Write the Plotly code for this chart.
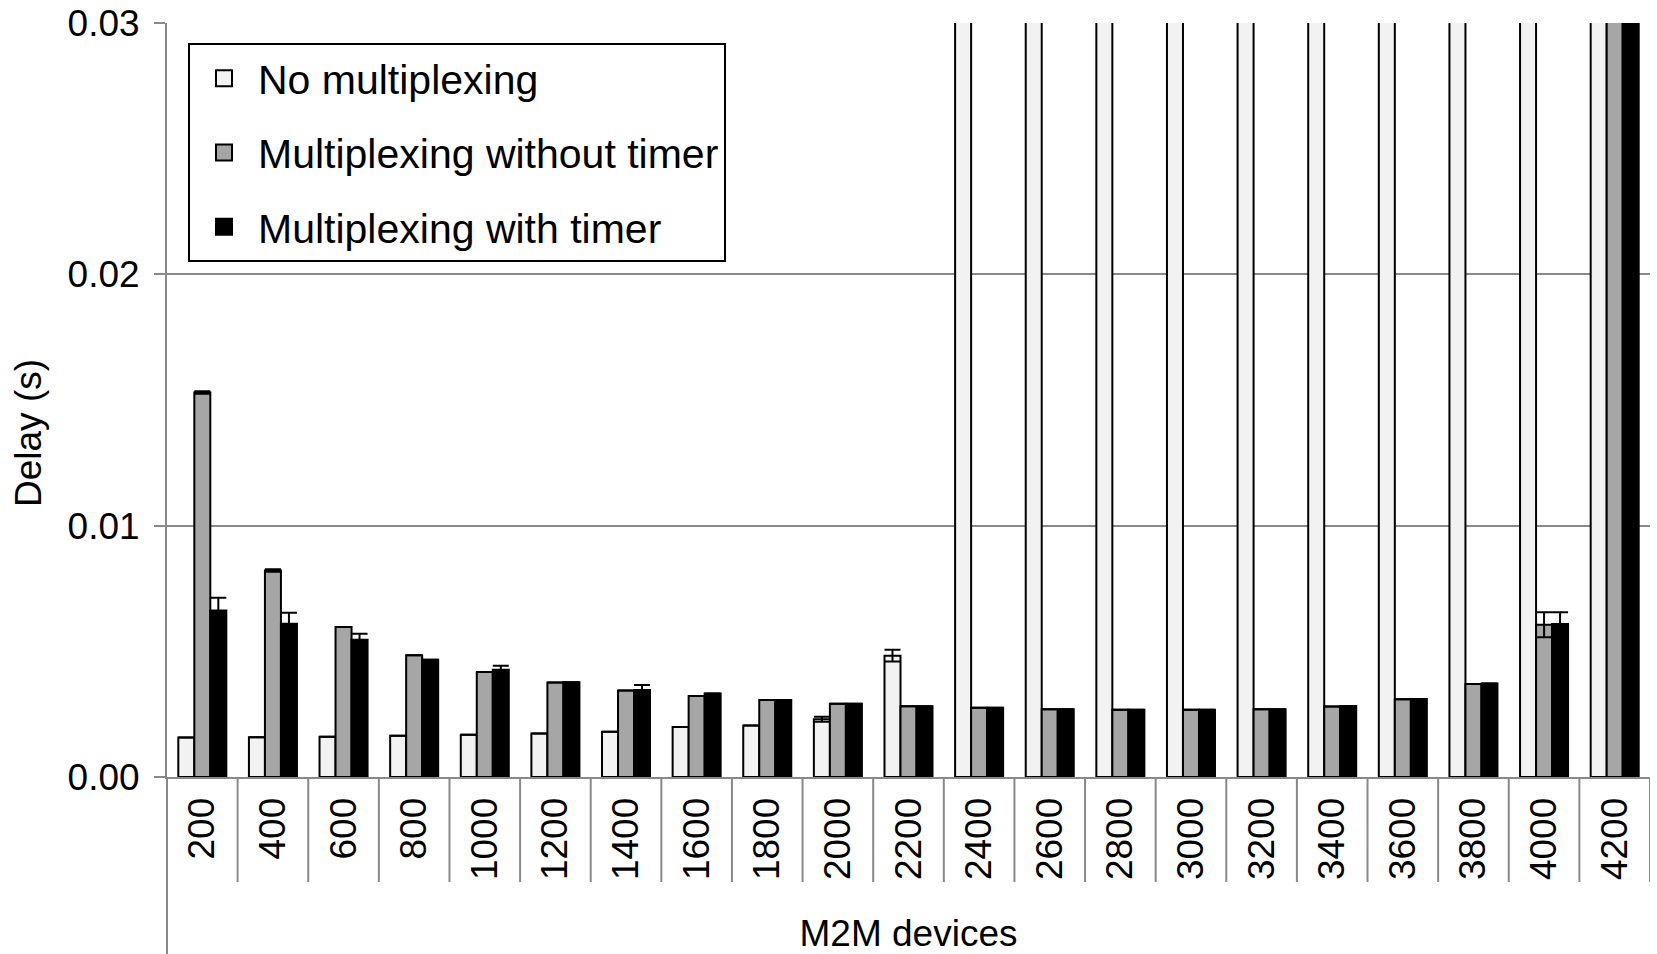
import plotly.graph_objects as go

categories = ["200", "400", "600", "800", "1000", "1200", "1400", "1600", "1800", "2000",
              "2200", "2400", "2600", "2800", "3000", "3200", "3400", "3600", "3800", "4000", "4200"]

no_mux = [0.00157, 0.00158, 0.0016, 0.00164, 0.00168, 0.00173, 0.0018, 0.00199, 0.00205, 0.0023,
          0.00483, 0.05, 0.05, 0.05, 0.05, 0.05, 0.05, 0.05, 0.05, 0.05, 0.05]
no_mux_err = [0, 0, 0, 0, 0, 0, 0, 0, 0, 0.0001,
              0.00023, 0, 0, 0, 0, 0, 0, 0, 0, 0, 0]

mux_no_timer = [0.0153, 0.00822, 0.00597, 0.00485, 0.00418, 0.00376, 0.00344, 0.00322, 0.00306, 0.00292,
                0.00282, 0.00276, 0.0027, 0.00268, 0.00268, 0.0027, 0.00281, 0.00309, 0.0037, 0.00606, 0.05]
mux_no_timer_err = [0.00005, 0.00005, 0, 0, 0, 0, 0, 0, 0, 0,
                    0, 0, 0, 0, 0, 0, 0, 0, 0, 0.0005, 0]

mux_timer = [0.00663, 0.0061, 0.00546, 0.00467, 0.00427, 0.00377, 0.00346, 0.00332, 0.00306, 0.00292,
             0.00282, 0.00276, 0.0027, 0.00268, 0.00268, 0.0027, 0.00283, 0.0031, 0.00372, 0.00609, 0.05]
mux_timer_err = [0.0005, 0.00044, 0.00024, 0, 0.00016, 0, 0.0002, 0, 0, 0,
                 0, 0, 0, 0, 0, 0, 0, 0, 0, 0.00047, 0]

y_ticks = [0.0, 0.01, 0.02, 0.03]

series = [
    ("No multiplexing", no_mux, no_mux_err, "#f2f2f2"),
    ("Multiplexing without timer", mux_no_timer, mux_no_timer_err, "#a6a6a6"),
    ("Multiplexing with timer", mux_timer, mux_timer_err, "#000000"),
]

FONT = "Liberation Sans, Arial, sans-serif"
GRID = "#898989"

fig = go.Figure()
for i, (name, vals, errs, color) in enumerate(series):
    fig.add_trace(go.Bar(
        name=name, x=categories, y=vals,
        marker=dict(color=color, line=dict(color="black", width=2)),
        error_y=dict(type="data", array=errs, visible=True, color="black", thickness=2, width=8),
        showlegend=False,
    ))
# legend entries (larger square swatches like the original)
for i, (name, vals, errs, color) in enumerate(series):
    fig.add_trace(go.Scatter(
        name=name, x=[None], y=[None], mode="markers",
        marker=dict(symbol="square", size=16, color=color, line=dict(color="black", width=2)),
        legendgroup=f"g{i}", showlegend=True,
    ))

W, H = 1657, 954
PL, PR, PT, PB = 167, 1650, 23, 777          # plot area in page pixels
L, T = PL, PT
R, B = W - PR, H - PB
plot_w = PR - PL
plot_h = PB - PT


def px_x(x):
    return (x - PL) / plot_w


def px_y(y):
    return 1 - (y - PT) / plot_h


n = len(categories)
shapes = []
for k in range(n + 1):
    shapes.append(dict(type="line", xref="x", yref="paper", x0=k - 0.5, x1=k - 0.5,
                       y0=0, y1=px_y(882), line=dict(color=GRID, width=2)))
shapes.append(dict(type="line", xref="paper", yref="paper", x0=0, x1=0,
                   y0=0, y1=px_y(H), line=dict(color=GRID, width=2)))

fig.update_layout(
    width=W, height=H,
    margin=dict(l=L, r=R, t=T, b=B, autoexpand=False),
    paper_bgcolor="white", plot_bgcolor="white",
    barmode="group", bargap=0.32, bargroupgap=0,
    font=dict(family=FONT, color="black", size=37),
    shapes=shapes,
    annotations=[dict(
        text="Delay (s)", textangle=-90, xref="paper", yref="paper",
        x=px_x(29), y=px_y(433),
        xanchor="center", yanchor="middle", showarrow=False,
        font=dict(size=37, family=FONT, color="black"),
    )],
    legend=dict(
        x=px_x(188), y=px_y(43), xanchor="left", yanchor="top",
        bgcolor="white", bordercolor="black", borderwidth=2,
        font=dict(size=41, family=FONT, color="black"),
        traceorder="grouped", tracegroupgap=18, itemwidth=58,
    ),
    xaxis=dict(
        type="category", range=[-0.5, n - 0.5], automargin=False,
        showline=True, linecolor=GRID, linewidth=2,
        ticks="", tickangle=-90, ticklabelstandoff=4,
        tickfont=dict(size=37),
        title=dict(text="M2M devices", font=dict(size=37), standoff=42),
        showgrid=False,
    ),
    yaxis=dict(
        range=[0, max(y_ticks) * 1.0002], tickvals=y_ticks, tickformat=".2f", automargin=False,
        showline=True, linecolor=GRID, linewidth=2,
        showgrid=True, gridcolor=GRID, gridwidth=2,
        ticks="outside", ticklen=11, tickwidth=2, tickcolor=GRID,
        ticklabelstandoff=7, ticklabeloverflow="allow",
        tickfont=dict(size=37),
        zeroline=False,
    ),
)

fig.write_html("out.html", config={"displayModeBar": False},
               post_script="document.body.style.margin='0';")
